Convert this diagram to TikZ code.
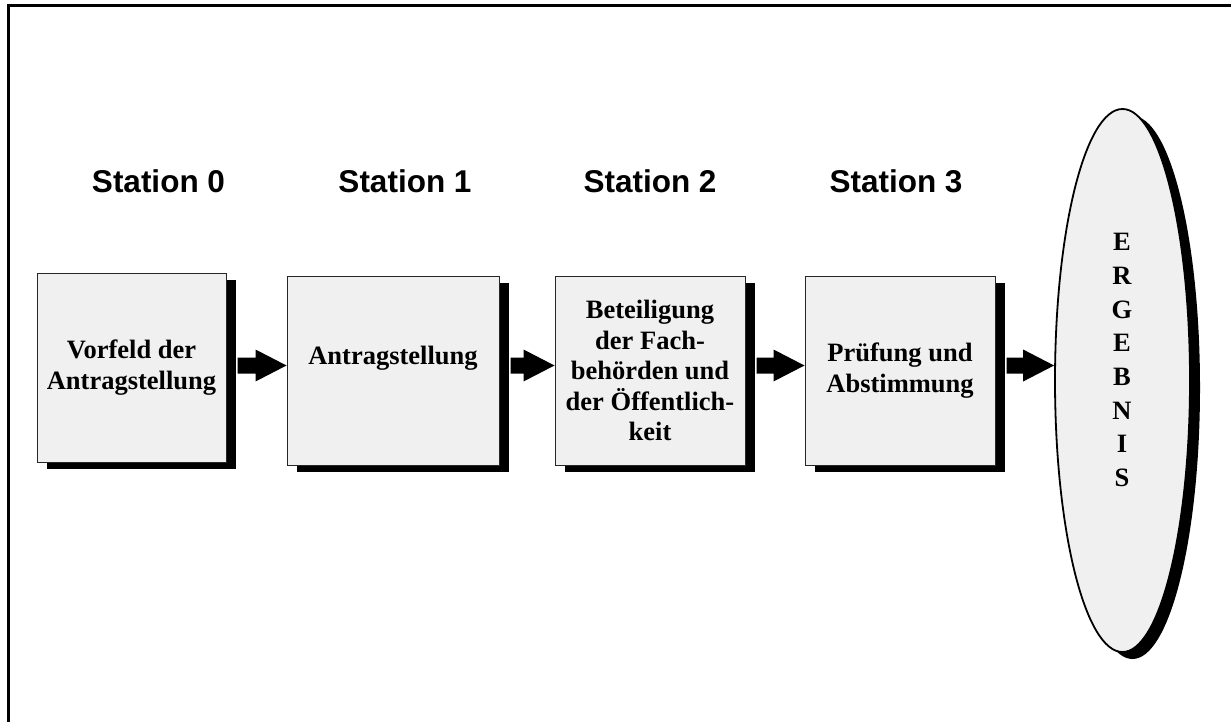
\documentclass[tikz,border=0pt]{standalone}
\usepackage{fontspec}
\setmainfont{Liberation Serif}
\setsansfont{Liberation Sans}
\usepackage{tikz}
\usetikzlibrary{positioning,calc,shapes,shadows}
\definecolor{boxgray}{HTML}{F0F0F0}

\begin{document}
\begin{tikzpicture}[x=1pt,y=-1pt,
  station/.style={font=\sffamily\bfseries\fontsize{31.5}{36}\selectfont,anchor=base,inner sep=0},
  stationbox/.style={draw=black!85,line width=1pt,fill=boxgray,inner sep=0,minimum height=189pt,
    align=center,font=\bfseries\fontsize{26.5}{31}\selectfont,
    drop shadow={shadow xshift=10pt,shadow yshift=-7pt,fill=black,opacity=1}},
  ergebnis/.style={ellipse,draw,line width=1.8pt,fill=boxgray,inner sep=0,
    minimum width=135pt,minimum height=543pt,
    drop shadow={shadow xshift=10pt,shadow yshift=-7pt,fill=black,opacity=1}},
  ergletters/.style={align=center,inner sep=0,font=\bfseries\fontsize{26.5}{33.7}\selectfont},
  flow/.style={fill=black,to path={let \p1=(\tikztostart), \p2=(\tikztotarget) in
    (\x1,\y2+8pt) -- (\x2-31pt,\y2+8pt) -- (\x2-31pt,\y2+16pt) -- (\x2,\y2)
    -- (\x2-31pt,\y2-16pt) -- (\x2-31pt,\y2-8pt) -- (\x1,\y2-8pt) -- cycle}}]
\useasboundingbox (0,0) rectangle (1231,722);
\clip (0,0) rectangle (1231,722);
% frame, cut off at the right and at the bottom
\draw[line width=3pt] (8,6) rectangle (1250,740);

% stations
\node[station] (st0) at (158.5,193) {Station 0};
\node[station] (st1) at (405,193) {Station 1};
\node[station] (st2) at (650,193) {Station 2};
\node[station] (st3) at (896,193) {Station 3};

\node[stationbox,minimum width=189pt] (b0) at (131.5,367.5) {Vorfeld der\\Antragstellung};
\node[stationbox,minimum width=212pt] (b1) at (393,370.5) {Antragstellung\\\mbox{}};
\node[stationbox,minimum width=190pt,font=\bfseries\fontsize{26.5}{30.5}\selectfont] (b2) at (650,370.5)
  {Beteiligung\\der Fach-\\behörden und\\der Öffentlich-\\keit};
\node[stationbox,minimum width=190pt] (b3) at (900,370.5) {Prüfung und\\Abstimmung};

\node[ergebnis] (erg) at (1122.5,380.5) {};
\node[ergletters] (ergtext) at (1122,360) {E\\R\\G\\E\\B\\N\\I\\S};

% arrows
\path[flow] ([xshift=11pt]b0.east) to ([yshift=5pt]b1.west);
\path[flow] ([xshift=11pt]b1.east) to ([yshift=5pt]b2.west);
\path[flow] ([xshift=11pt]b2.east) to ([yshift=5pt]b3.west);
\path[flow] ([xshift=11pt]b3.east) to ([yshift=5pt]b3.east -| erg.west);
\end{tikzpicture}
\end{document}
